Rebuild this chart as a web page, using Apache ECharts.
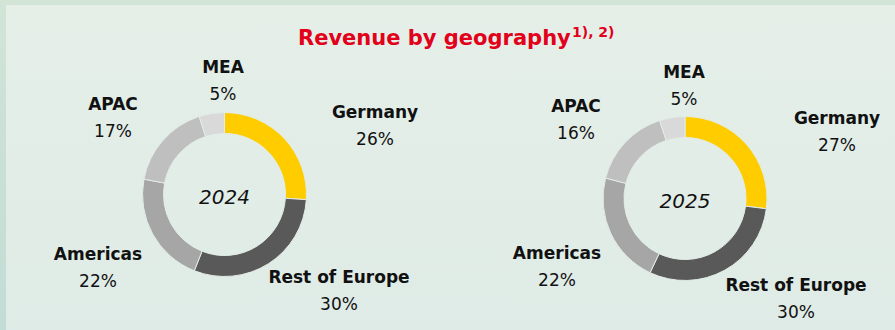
<!DOCTYPE html>
<html>
<head>
<meta charset="utf-8">
<script src="https://cdn.jsdelivr.net/npm/echarts@6/dist/echarts.min.js"></script>
<style>
  html, body { margin: 0; padding: 0; }
  body {
    width: 895px; height: 330px; overflow: hidden;
    background: linear-gradient(180deg, #d1e4d6 0%, #c2dcd6 100%);
    position: relative;
  }
  #panel {
    position: absolute; left: 6px; top: 5px; right: 0; bottom: 0;
    background: linear-gradient(180deg, #e5efe8 0%, #dfebe6 100%);
  }
  #chart { position: absolute; left: 0; top: 0; width: 895px; height: 330px; }
</style>
</head>
<body>
<div id="panel"></div>
<div id="chart"></div>
<script>
// Regions, in clockwise order starting at 12 o'clock
const regions = ['Germany', 'Rest of Europe', 'Americas', 'APAC', 'MEA'];
const share2024 = [26, 30, 22, 17, 5];
const share2025 = [27, 30, 22, 16, 5];
const years = ['2024', '2025'];
const titleText = 'Revenue by geography';
const titleNote = '1), 2)';

const regionColors = ['#ffcc00', '#595959', '#a6a6a6', '#bfbfbf', '#d9d9d9'];
const FONT = '"DejaVu Sans", sans-serif';
const INK = '#111111';

// Donut centres and label anchors: [x, y of region name]; the share sits one line below
const donutCenters = [[224.5, 194.5], [685, 198.5]];
const labelAnchors = [
  [[375, 112], [339, 277], [98, 254], [113, 104], [223, 67]],
  [[837, 118], [796, 285], [557, 253], [576, 106], [684, 72]]
];
const LINE_GAP = 26.5;

function pieSeries(values, idx) {
  return {
    type: 'pie',
    center: donutCenters[idx],
    radius: [61, 82],
    startAngle: 90,
    clockwise: true,
    silent: true,
    animation: false,
    itemStyle: { borderColor: '#e2ede7', borderWidth: 1 },
    label: { show: false },
    labelLine: { show: false },
    data: regions.map((name, i) => ({
      name: name, value: values[i], itemStyle: { color: regionColors[i] }
    }))
  };
}

// Region name + share labels around each donut
function regionLabels(values, idx) {
  const out = [];
  regions.forEach((name, i) => {
    const a = labelAnchors[idx][i];
    out.push({
      type: 'text', x: a[0], y: a[1], silent: true,
      style: { text: name, fontFamily: FONT, fontWeight: 'bold', fontSize: 17,
               fill: INK, align: 'center', verticalAlign: 'middle' }
    });
    out.push({
      type: 'text', x: a[0], y: a[1] + LINE_GAP, silent: true,
      style: { text: values[i] + '%', fontFamily: FONT, fontSize: 17,
               fill: INK, align: 'center', verticalAlign: 'middle' }
    });
  });
  return out;
}

const yearLabels = years.map((y, i) => ({
  type: 'text', x: donutCenters[i][0], y: donutCenters[i][1] + 2, silent: true,
  style: { text: y, fontFamily: FONT, fontStyle: 'italic', fontSize: 20,
           fill: INK, align: 'center', verticalAlign: 'middle' }
}));

// Title with its footnote marker set as a superscript
const titleParts = [
  { type: 'text', x: 298, y: 38, silent: true,
    style: { text: titleText, fontFamily: FONT, fontWeight: 'bold', fontSize: 21,
             fill: '#e2001a', align: 'left', verticalAlign: 'middle' } },
  { type: 'text', x: 572, y: 32, silent: true,
    style: { text: titleNote, fontFamily: FONT, fontWeight: 'bold', fontSize: 14,
             fill: '#e2001a', align: 'left', verticalAlign: 'middle' } }
];

const chart = echarts.init(document.getElementById('chart'), null, { renderer: 'svg', width: 895, height: 330 });
chart.setOption({
  backgroundColor: 'transparent',
  series: [pieSeries(share2024, 0), pieSeries(share2025, 1)],
  graphic: titleParts
    .concat(yearLabels)
    .concat(regionLabels(share2024, 0))
    .concat(regionLabels(share2025, 1))
});
</script>
</body>
</html>
